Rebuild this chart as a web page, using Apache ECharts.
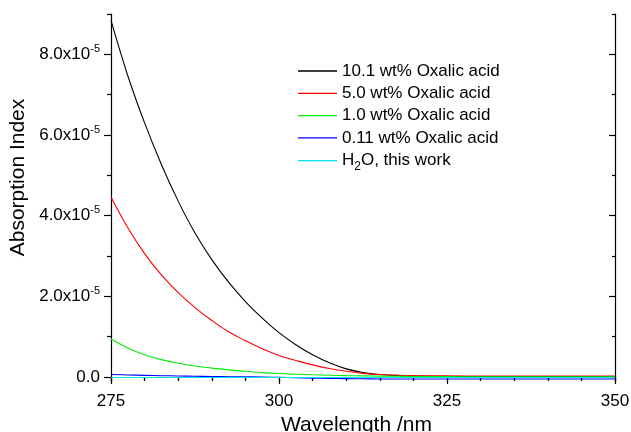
<!DOCTYPE html>
<html>
<head>
<meta charset="utf-8">
<script src="https://cdn.jsdelivr.net/npm/echarts@6/dist/echarts.min.js"></script>
<style>
html,body{margin:0;padding:0;background:#fff;}
#chart{width:631px;height:432px;}
</style>
</head>
<body>
<div id="chart"></div>
<script>
// Wavelength (nm)
var wavelengths = [275, 277.5, 280, 282.5, 285, 287.5, 290, 292.5, 295, 297.5, 300, 302.5, 305, 307.5, 310, 312.5, 315, 317.5, 320, 325, 330, 335, 340, 345, 350];
// Absorption index, in units of 1e-5
var oxalic10_1 = [8.84, 7.47, 6.30, 5.27, 4.36, 3.57, 2.91, 2.35, 1.87, 1.46, 1.10, 0.80, 0.55, 0.35, 0.20, 0.11, 0.06, 0.035, 0.022, 0.012, 0.01, 0.01, 0.01, 0.01, 0.01];
var oxalic5_0 = [4.46, 3.70, 3.06, 2.53, 2.09, 1.72, 1.40, 1.12, 0.90, 0.70, 0.53, 0.41, 0.30, 0.21, 0.14, 0.09, 0.06, 0.045, 0.035, 0.028, 0.025, 0.025, 0.025, 0.025, 0.025];
var oxalic1_0 = [0.94, 0.72, 0.55, 0.43, 0.34, 0.27, 0.22, 0.175, 0.14, 0.11, 0.085, 0.068, 0.054, 0.043, 0.034, 0.027, 0.021, 0.017, 0.013, 0.008, 0.006, 0.005, 0.005, 0.005, 0.005];
var oxalic0_11 = [0.06, 0.05, 0.04, 0.032, 0.025, 0.018, 0.012, 0.007, 0.003, 0, -0.01, -0.02, -0.03, -0.035, -0.04, -0.045, -0.05, -0.05, -0.05, -0.05, -0.05, -0.05, -0.05, -0.05, -0.05];
var water = [-0.015, -0.015, -0.015, -0.015, -0.015, -0.015, -0.015, -0.015, -0.015, -0.015, -0.015, -0.015, -0.015, -0.015, -0.015, -0.015, -0.015, -0.015, -0.015, -0.015, -0.015, -0.015, -0.015, -0.015, -0.015];

var seriesNames = ['10.1 wt% Oxalic acid', '5.0 wt% Oxalic acid', '1.0 wt% Oxalic acid', '0.11 wt% Oxalic acid', 'H2O, this work'];
var seriesColors = ['#000000', '#ff0000', '#00ee00', '#0000ff', '#00e5f0'];
var seriesValues = [oxalic10_1, oxalic5_0, oxalic1_0, oxalic0_11, water];

var yMajorTicks = [0, 2, 4, 6, 8];
var yMinorTicks = [1, 3, 5, 7, 9];
var yLabelText = ['0.0', '2.0x10', '4.0x10', '6.0x10', '8.0x10'];
var yExponent = '-5';

var FONT = 'Arial, "Liberation Sans", sans-serif';

function pairs(xs, ys) {
  return xs.map(function (x, i) { return [x, ys[i]]; });
}

var chart = echarts.init(document.getElementById('chart'), null, {renderer: 'canvas'});

var axisLineStyle = {color: '#000', width: 1.2};

var option = {
  backgroundColor: '#ffffff',
  animation: false,
  grid: {left: 111, right: 16, top: 14, bottom: 51, containLabel: false, outerBoundsMode: 'none'},
  legend: {
    orient: 'vertical',
    left: 298,
    top: 60,
    padding: 0,
    icon: 'rect',
    itemWidth: 39,
    itemHeight: 1.3,
    itemGap: 0.3,
    textStyle: {
      fontFamily: FONT, fontSize: 17, color: '#000', lineHeight: 22,
      rich: {
        t: {fontFamily: FONT, fontSize: 17, color: '#000', lineHeight: 22},
        sub: {fontFamily: FONT, fontSize: 12, color: '#000', lineHeight: 12, padding: [11, 0, 0, 0]}
      }
    },
    formatter: function (name) {
      if (name === 'H2O, this work') return '{t|H}{sub|2}{t|O, this work}';
      return name;
    },
    data: seriesNames
  },
  xAxis: [
    {
      type: 'value', position: 'bottom', min: 275, max: 350, interval: 25,
      name: 'Wavelength /nm', nameLocation: 'middle', nameGap: 27,
      nameTextStyle: {fontFamily: FONT, fontSize: 21, color: '#000', padding: [0, 13, 0, 0]},
      axisLine: {show: true, lineStyle: axisLineStyle},
      axisTick: {show: true, inside: false, length: 7, lineStyle: {color: '#000', width: 1.2}},
      minorTick: {show: true, splitNumber: 5, length: 4, lineStyle: {color: '#000', width: 1.2}},
      axisLabel: {fontFamily: FONT, fontSize: 17, color: '#000', margin: 12},
      splitLine: {show: false}
    },
    {
      type: 'value', position: 'top', min: 275, max: 350, interval: 25,
      axisLine: {show: true, lineStyle: axisLineStyle},
      axisTick: {show: true, inside: true, length: 5, lineStyle: {color: '#000', width: 1.2}},
      minorTick: {show: true, splitNumber: 5, length: 3, lineStyle: {color: '#000', width: 1.2}},
      axisLabel: {show: false},
      splitLine: {show: false}
    }
  ],
  yAxis: [
    {
      type: 'value', position: 'left', min: -0.1, max: 9,
      name: 'Absorption Index', nameLocation: 'middle', nameGap: 81,
      nameTextStyle: {fontFamily: FONT, fontSize: 21, color: '#000', padding: [0, 0, 0, 40]},
      axisLine: {show: true, lineStyle: axisLineStyle},
      axisTick: {show: true, inside: false, length: 7, customValues: yMajorTicks, lineStyle: {color: '#000', width: 1.2}},
      axisLabel: {
        show: true, margin: 11, customValues: yMajorTicks,
        formatter: function (v) {
          var i = yMajorTicks.indexOf(Math.round(v));
          if (i <= 0) return '{n|0.0}';
          return '{n|' + yLabelText[i] + '}{s|' + yExponent + '}';
        },
        rich: {
          n: {fontFamily: FONT, fontSize: 17, color: '#000', lineHeight: 20},
          s: {fontFamily: FONT, fontSize: 11, color: '#000', lineHeight: 11, padding: [0, 0, 11, 0]}
        }
      },
      splitLine: {show: false}
    },
    {
      type: 'value', position: 'left', min: -0.1, max: 9,
      axisLine: {show: false},
      axisTick: {show: true, inside: false, length: 4, customValues: yMinorTicks, lineStyle: {color: '#000', width: 1.2}},
      axisLabel: {show: false},
      splitLine: {show: false}
    },
    {
      type: 'value', position: 'right', min: -0.1, max: 9,
      axisLine: {show: true, lineStyle: axisLineStyle},
      axisTick: {show: true, inside: true, length: 6, customValues: yMajorTicks, lineStyle: {color: '#000', width: 1.2}},
      axisLabel: {show: false},
      splitLine: {show: false}
    },
    {
      type: 'value', position: 'right', min: -0.1, max: 9,
      axisLine: {show: false},
      axisTick: {show: true, inside: true, length: 3, customValues: yMinorTicks, lineStyle: {color: '#000', width: 1.2}},
      axisLabel: {show: false},
      splitLine: {show: false}
    }
  ],
  series: seriesNames.map(function (name, i) {
    return {
      name: name,
      type: 'line',
      xAxisIndex: 0,
      yAxisIndex: 0,
      data: pairs(wavelengths, seriesValues[i]),
      smooth: 0.4,
      symbol: 'none',
      clip: true,
      color: seriesColors[i],
      itemStyle: {color: seriesColors[i]},
      lineStyle: {color: seriesColors[i], width: 1.1},
      z: 2 + i
    };
  })
};

chart.setOption(option);
</script>
</body>
</html>
